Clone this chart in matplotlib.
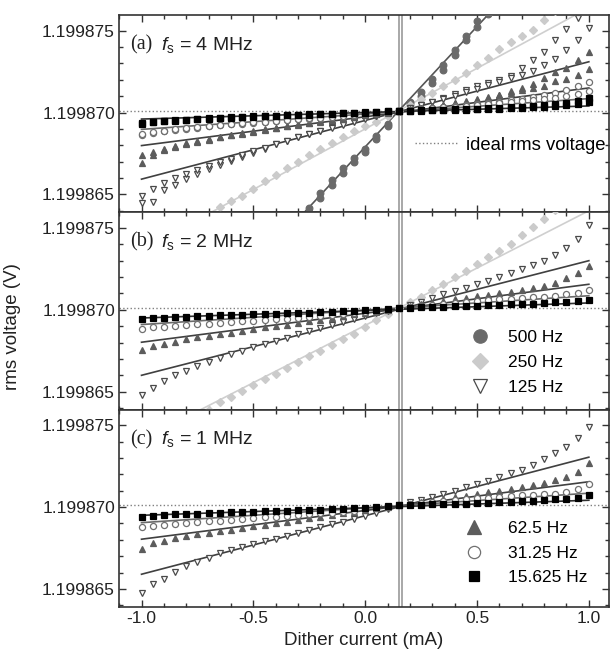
import numpy as np
import matplotlib
matplotlib.use('Agg')
import matplotlib.pyplot as plt
from matplotlib.lines import Line2D
from matplotlib.ticker import MultipleLocator

plt.rcParams['font.family'] = ['Liberation Sans', 'DejaVu Sans']
plt.rcParams['mathtext.fontset'] = 'custom'
plt.rcParams['mathtext.rm'] = 'Liberation Sans'
plt.rcParams['mathtext.it'] = 'Liberation Sans:italic'
plt.rcParams['axes.unicode_minus'] = False

# rms voltages are given as offsets in uV from V0
V0 = 1.199870
ideal_offset = 0.1
cross_lines = [0.150, 0.165]

current = [-1.00, -0.95, -0.90, -0.85, -0.80, -0.75, -0.70, -0.65, -0.60, -0.55,
           -0.50, -0.45, -0.40, -0.35, -0.30, -0.25, -0.20, -0.15, -0.10, -0.05,
           0.00, 0.05, 0.10, 0.15, 0.20, 0.25, 0.30, 0.35, 0.40, 0.45,
           0.50, 0.55, 0.60, 0.65, 0.70, 0.75, 0.80, 0.85, 0.90, 0.95, 1.00]
cur_500 = [-0.25, -0.20, -0.15, -0.10, -0.05, 0.00, 0.05, 0.10, 0.15,
           0.20, 0.25, 0.30, 0.35, 0.40, 0.45, 0.50, 0.55]
cur_250 = [-0.70, -0.65, -0.60, -0.55, -0.50, -0.45, -0.40, -0.35, -0.30, -0.25,
           -0.20, -0.15, -0.10, -0.05, 0.00, 0.05, 0.10, 0.15, 0.20, 0.25,
           0.30, 0.35, 0.40, 0.45, 0.50, 0.55, 0.60, 0.65, 0.70, 0.75, 0.80, 0.85]

# (a) fs = 4 MHz, two runs
a_500_r1 = [-5.85, -4.9, -4.1, -3.4, -2.8, -2.2, -1.45, -0.7, 0.1,
            0.65, 1.25, 2.05, 2.9, 3.8, 4.7, 5.6, 6.4]
a_500_r2 = [-6.1, -5.2, -4.4, -3.7, -3.0, -2.4, -1.6, -0.8, 0.1,
            0.5, 1.0, 1.8, 2.6, 3.5, 4.4, 5.2, 6.0]
a_250 = [-6.3, -5.8, -5.4, -5.1, -4.7, -4.2, -3.8, -3.4, -3.0, -2.6,
         -2.2, -1.85, -1.5, -1.15, -0.85, -0.55, -0.23, 0.1, 0.45, 0.8,
         1.2, 1.6, 2.0, 2.4, 2.9, 3.35, 3.85, 4.3, 4.65, 5.05, 5.65, 6.2]
a_125_r1 = [-5.55, -5.45, -4.75, -4.4, -4.05, -3.75, -3.45, -3.2, -2.95, -2.7,
            -2.45, -2.2, -1.95, -1.72, -1.5, -1.3, -1.1, -0.9, -0.72, -0.52,
            -0.36, -0.2, -0.05, 0.1, 0.27, 0.45, 0.65, 0.88, 1.12, 1.36,
            1.6, 1.8, 2.0, 2.2, 2.7, 3.2, 3.7, 4.4, 5.1, 5.8, 6.6]
a_125_r2 = [-5.1, -4.68, -4.3, -3.98, -3.75, -3.5, -3.28, -3.05, -2.83, -2.6,
            -2.38, -2.16, -1.94, -1.72, -1.52, -1.32, -1.12, -0.93, -0.74, -0.55,
            -0.38, -0.21, -0.05, 0.1, 0.26, 0.43, 0.62, 0.82, 1.03, 1.24,
            1.45, 1.65, 1.88, 2.08, 2.3, 2.52, 2.9, 3.25, 3.8, 4.4, 5.14]
a_62_r1 = [-3.1, -2.62, -2.32, -2.1, -1.95, -1.8, -1.66, -1.52, -1.4, -1.29,
           -1.17, -1.06, -0.95, -0.85, -0.75, -0.65, -0.55, -0.46, -0.37, -0.28,
           -0.18, -0.09, 0.0, 0.1, 0.2, 0.29, 0.38, 0.48, 0.58, 0.68,
           0.8, 0.96, 1.1, 1.3, 1.5, 1.75, 2.1, 2.5, 2.7, 3.2, 3.72]
a_62_r2 = [-2.6, -2.4, -2.2, -2.02, -1.87, -1.74, -1.61, -1.49, -1.37, -1.26,
           -1.14, -1.03, -0.93, -0.83, -0.73, -0.63, -0.54, -0.45, -0.36, -0.27,
           -0.17, -0.08, 0.01, 0.1, 0.19, 0.28, 0.37, 0.46, 0.56, 0.65,
           0.75, 0.9, 1.05, 1.2, 1.35, 1.5, 1.62, 1.95, 2.05, 2.3, 2.66]
a_31_r1 = [-1.4, -1.27, -1.15, -1.07, -0.98, -0.92, -0.85, -0.79, -0.73, -0.68,
           -0.63, -0.57, -0.52, -0.47, -0.42, -0.37, -0.32, -0.27, -0.22, -0.16,
           -0.1, -0.04, 0.03, 0.1, 0.16, 0.22, 0.28, 0.33, 0.38, 0.44,
           0.5, 0.57, 0.65, 0.75, 0.85, 0.95, 1.05, 1.2, 1.35, 1.6, 1.85]
a_31_r2 = [-1.3, -1.2, -1.1, -1.02, -0.95, -0.89, -0.83, -0.77, -0.71, -0.66,
           -0.61, -0.56, -0.51, -0.46, -0.41, -0.36, -0.31, -0.26, -0.21, -0.15,
           -0.09, -0.03, 0.03, 0.1, 0.15, 0.2, 0.26, 0.31, 0.36, 0.41,
           0.45, 0.5, 0.56, 0.62, 0.7, 0.75, 0.85, 0.9, 1.0, 1.15, 1.31]
a_15_r1 = [-0.7, -0.6, -0.54, -0.5, -0.46, -0.42, -0.38, -0.34, -0.31, -0.28,
           -0.25, -0.22, -0.2, -0.18, -0.16, -0.13, -0.11, -0.09, -0.06, -0.03,
           0.0, 0.03, 0.07, 0.1, 0.12, 0.14, 0.16, 0.18, 0.2, 0.22,
           0.24, 0.26, 0.29, 0.32, 0.36, 0.4, 0.45, 0.52, 0.6, 0.7, 0.89]
a_15_r2 = [-0.62, -0.56, -0.51, -0.47, -0.43, -0.4, -0.36, -0.33, -0.3, -0.27,
           -0.24, -0.21, -0.19, -0.17, -0.15, -0.12, -0.1, -0.08, -0.05, -0.02,
           0.01, 0.04, 0.07, 0.1, 0.11, 0.12, 0.14, 0.15, 0.17, 0.18,
           0.2, 0.22, 0.24, 0.26, 0.29, 0.32, 0.35, 0.4, 0.45, 0.52, 0.62]

# (b) fs = 2 MHz
b_250 = [-6.1, -5.65, -5.3, -4.95, -4.6, -4.25, -3.9, -3.55, -3.2, -2.85,
         -2.5, -2.15, -1.8, -1.45, -1.05, -0.65, -0.28, 0.1, 0.45, 0.8,
         1.2, 1.6, 2.0, 2.4, 2.8, 3.2, 3.6, 4.05, 4.55, 5.05, 5.55, 6.1]
b_125 = [-5.2, -4.75, -4.35, -4.0, -3.75, -3.45, -3.2, -2.95, -2.7, -2.5,
         -2.3, -2.1, -1.9, -1.7, -1.5, -1.3, -1.12, -0.92, -0.75, -0.55,
         -0.38, -0.2, -0.05, 0.1, 0.3, 0.5, 0.72, 0.95, 1.15, 1.35,
         1.55, 1.78, 2.0, 2.25, 2.5, 2.75, 3.0, 3.35, 3.75, 4.3, 5.2]
b_62 = [-2.44, -2.24, -2.08, -1.94, -1.8, -1.68, -1.58, -1.48, -1.4, -1.28,
        -1.2, -1.08, -1.0, -0.9, -0.8, -0.68, -0.6, -0.48, -0.4, -0.28,
        -0.2, -0.12, -0.04, 0.1, 0.22, 0.33, 0.44, 0.55, 0.65, 0.74,
        0.84, 0.92, 1.0, 1.1, 1.2, 1.32, 1.46, 1.66, 1.92, 2.26, 2.66]
b_31 = [-1.2, -1.08, -1.04, -1.0, -0.94, -0.88, -0.84, -0.8, -0.74, -0.7,
        -0.66, -0.62, -0.58, -0.54, -0.49, -0.44, -0.39, -0.34, -0.28, -0.22,
        -0.15, -0.08, 0.01, 0.1, 0.18, 0.24, 0.3, 0.36, 0.42, 0.48,
        0.54, 0.6, 0.64, 0.68, 0.72, 0.76, 0.8, 0.86, 0.94, 1.04, 1.2]
b_15 = [-0.58, -0.52, -0.48, -0.44, -0.42, -0.38, -0.36, -0.34, -0.32, -0.3,
        -0.28, -0.26, -0.24, -0.22, -0.2, -0.18, -0.15, -0.12, -0.09, -0.06,
        -0.03, 0.01, 0.05, 0.1, 0.13, 0.15, 0.17, 0.19, 0.21, 0.23,
        0.26, 0.28, 0.31, 0.34, 0.36, 0.38, 0.41, 0.45, 0.5, 0.56, 0.62]

# (c) fs = 1 MHz
c_125 = [-5.25, -4.72, -4.38, -3.95, -3.62, -3.35, -3.08, -2.83, -2.63, -2.42,
         -2.24, -2.08, -1.92, -1.75, -1.57, -1.4, -1.22, -1.05, -0.88, -0.7,
         -0.52, -0.35, -0.13, 0.1, 0.3, 0.42, 0.6, 0.8, 1.0, 1.2,
         1.4, 1.62, 1.86, 2.07, 2.27, 2.58, 2.93, 3.3, 3.7, 4.2, 4.9]
c_62 = [-2.57, -2.18, -2.05, -1.88, -1.76, -1.66, -1.58, -1.48, -1.38, -1.28,
        -1.18, -1.08, -0.98, -0.88, -0.78, -0.68, -0.58, -0.48, -0.38, -0.28,
        -0.18, -0.08, 0.01, 0.1, 0.2, 0.3, 0.4, 0.5, 0.6, 0.7,
        0.8, 0.9, 1.0, 1.1, 1.2, 1.34, 1.48, 1.64, 1.86, 2.16, 2.67]
c_31 = [-1.23, -1.18, -1.12, -1.05, -0.98, -0.92, -0.87, -0.82, -0.77, -0.72,
        -0.67, -0.62, -0.58, -0.53, -0.48, -0.43, -0.38, -0.33, -0.27, -0.21,
        -0.14, -0.07, 0.01, 0.1, 0.17, 0.23, 0.29, 0.35, 0.41, 0.47,
        0.53, 0.58, 0.63, 0.67, 0.71, 0.75, 0.78, 0.82, 0.93, 1.13, 1.4]
c_15 = [-0.58, -0.53, -0.49, -0.45, -0.42, -0.39, -0.36, -0.34, -0.32, -0.3,
        -0.28, -0.26, -0.24, -0.22, -0.2, -0.17, -0.15, -0.12, -0.09, -0.06,
        -0.03, 0.01, 0.05, 0.1, 0.12, 0.14, 0.16, 0.18, 0.2, 0.22,
        0.25, 0.27, 0.3, 0.33, 0.35, 0.38, 0.42, 0.47, 0.52, 0.58, 0.72]

# linear fits: value at -1 mA and at +1 mA
fits_a = {'500 Hz': (-16.8, 12.6), '250 Hz': (-8.4, 6.4), '125 Hz': (-4.07, 3.1),
          '62.5 Hz': (-2.02, 1.5), '31.25 Hz': (-1.03, 0.85), '15.625 Hz': (-0.4, 0.4)}
fits_b = {'250 Hz': (-7.95, 6.05), '125 Hz': (-4.0, 3.0), '62.5 Hz': (-1.98, 1.56),
          '31.25 Hz': (-0.9, 0.86), '15.625 Hz': (-0.5, 0.42)}
fits_c = {'125 Hz': (-4.1, 3.05), '62.5 Hz': (-1.96, 1.55),
          '31.25 Hz': (-0.95, 0.85), '15.625 Hz': (-0.5, 0.42)}

styles = {
    '500 Hz': dict(marker='o', mfc='#6a6a6a', mec='#6a6a6a', ms=4.8, line='#555555'),
    '250 Hz': dict(marker='D', mfc='#cbcbcb', mec='#cbcbcb', ms=4.0, line='#cfcfcf'),
    '125 Hz': dict(marker='v', mfc='white', mec='#4a4a4a', ms=5.0, line='#404040'),
    '62.5 Hz': dict(marker='^', mfc='#5c5c5c', mec='#5c5c5c', ms=5.0, line='#404040'),
    '31.25 Hz': dict(marker='o', mfc='white', mec='#707070', ms=4.4, line='#6a6a6a'),
    '15.625 Hz': dict(marker='s', mfc='black', mec='black', ms=3.9, line='#303030'),
}

panels = [
    ('(a)', '4 MHz', fits_a, [('500 Hz', cur_500, [a_500_r1, a_500_r2]),
                             ('250 Hz', cur_250, [a_250]),
                             ('125 Hz', current, [a_125_r1, a_125_r2]),
                             ('62.5 Hz', current, [a_62_r1, a_62_r2]),
                             ('31.25 Hz', current, [a_31_r1, a_31_r2]),
                             ('15.625 Hz', current, [a_15_r1, a_15_r2])]),
    ('(b)', '2 MHz', fits_b, [('250 Hz', cur_250, [b_250]),
                             ('125 Hz', current, [b_125]),
                             ('62.5 Hz', current, [b_62]),
                             ('31.25 Hz', current, [b_31]),
                             ('15.625 Hz', current, [b_15])]),
    ('(c)', '1 MHz', fits_c, [('125 Hz', current, [c_125]),
                             ('62.5 Hz', current, [c_62]),
                             ('31.25 Hz', current, [c_31]),
                             ('15.625 Hz', current, [c_15])]),
]

fig, axes = plt.subplots(3, 1, figsize=(6.11, 6.56), dpi=100, sharex=True)
fig.subplots_adjust(left=0.195, right=0.9967, top=0.977, bottom=0.0747, hspace=0)

for ax, (tag, fs, fits, series) in zip(axes, panels):
    ax.axhline(ideal_offset, color='#808080', ls=':', lw=1.0, zorder=1)
    for xv in cross_lines:
        ax.axvline(xv, color='#9a9a9a', lw=1.2, zorder=1)
    for name, xs, runs in series:
        st = styles[name]
        lo, hi = fits[name]
        ax.plot([current[0], current[-1]], [lo, hi], color=st['line'], lw=1.2, zorder=2)
        for ys in runs:
            ax.plot(xs, ys, ls='none', marker=st['marker'], mfc=st['mfc'], mec=st['mec'],
                    ms=st['ms'], mew=0.9, zorder=3)

    ax.set_xlim(-1.1, 1.09)
    ax.set_ylim(-6.1, 5.95)
    ax.set_xticks([-1.0, -0.5, 0.0, 0.5, 1.0])
    ax.xaxis.set_minor_locator(MultipleLocator(0.1))
    yt = [-5, 0, 5]
    ax.set_yticks(yt)
    ax.set_yticklabels(['%.6f' % (V0 + t * 1e-6) for t in yt])
    ax.yaxis.set_minor_locator(MultipleLocator(1))
    ax.tick_params(which='both', direction='in', top=True, right=True,
                   width=1.0, color='#333333', labelsize=12.5, labelcolor='#222222', pad=3)
    ax.tick_params(which='major', length=5)
    ax.tick_params(which='minor', length=3)
    for sp in ax.spines.values():
        sp.set_linewidth(1.2)
        sp.set_color('#333333')

    ax.text(0.022, 0.825, tag, transform=ax.transAxes, fontsize=14.5,
            family=['Liberation Serif', 'DejaVu Serif'], va='baseline', color='#222222')
    ax.text(0.085, 0.825, r'$f_{\rm s}$ = ' + fs, transform=ax.transAxes, fontsize=14,
            va='baseline', color='#222222')

axes[2].xaxis.set_major_formatter(matplotlib.ticker.FormatStrFormatter('%.1f'))
axes[2].set_xlabel('Dither current (mA)', fontsize=13.5, labelpad=4, color='#222222')
fig.text(0.02, 1 - 327 / 656, 'rms voltage (V)', rotation=90, fontsize=13.5,
         va='center', ha='center', color='#222222')

ideal_handle = [Line2D([], [], color='#808080', ls=':', lw=1.0)]
axes[0].legend(ideal_handle, ['ideal rms voltage'], loc='center left',
               bbox_to_anchor=(0.604, 0.34), frameon=False, fontsize=13.3,
               handlelength=2.3, handletextpad=0.45, borderpad=0, borderaxespad=0)


def marker_handles(names):
    return [Line2D([], [], ls='none', marker=styles[n]['marker'], mfc=styles[n]['mfc'],
                   mec=styles[n]['mec'], ms=styles[n]['ms'], mew=0.9) for n in names]


leg_b = ['500 Hz', '250 Hz', '125 Hz']
leg_c = ['62.5 Hz', '31.25 Hz', '15.625 Hz']
axes[1].legend(marker_handles(leg_b), leg_b, loc='center left', bbox_to_anchor=(0.719, 0.239),
               frameon=False, fontsize=12.5, markerscale=2.0, handlelength=1.0,
               handletextpad=1.1, labelspacing=0.55, borderpad=0, borderaxespad=0)
axes[2].legend(marker_handles(leg_c), leg_c, loc='center left', bbox_to_anchor=(0.707, 0.273),
               frameon=False, fontsize=12.5, markerscale=2.0, handlelength=1.0,
               handletextpad=1.45, labelspacing=0.55, borderpad=0, borderaxespad=0)

fig.savefig('out.png', dpi=100)
